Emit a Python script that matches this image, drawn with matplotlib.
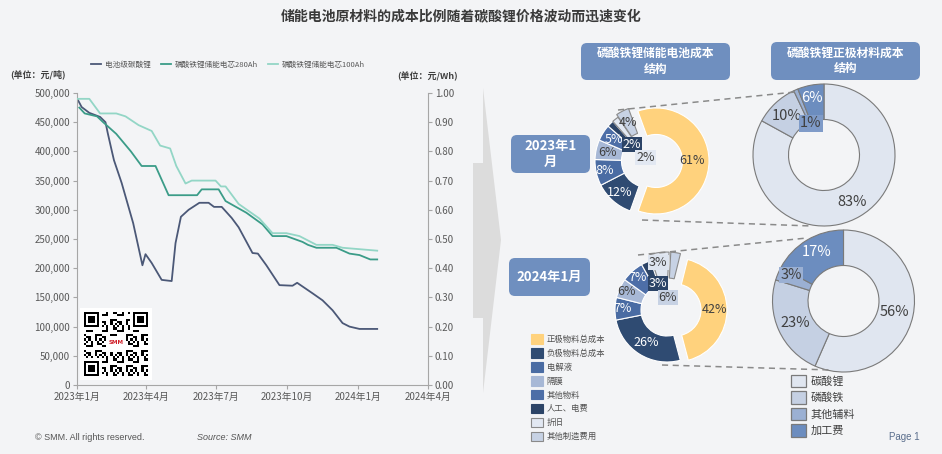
import matplotlib.pyplot as plt
from matplotlib.patches import FancyBboxPatch, Polygon, Patch, Rectangle
from matplotlib.ticker import FuncFormatter, MultipleLocator
import numpy as np
import pandas as pd

plt.rcParams['font.family'] = ['Noto Sans CJK SC', 'DejaVu Sans']

# ---------------- line chart data ----------------
li_dates = ['2023-01-01', '2023-01-07', '2023-01-17', '2023-01-31', '2023-02-07', '2023-02-10',
            '2023-02-15', '2023-02-18', '2023-02-28', '2023-03-15', '2023-03-27', '2023-03-31',
            '2023-04-08', '2023-04-21', '2023-05-04', '2023-05-09', '2023-05-16', '2023-05-26',
            '2023-06-09', '2023-06-21', '2023-06-28', '2023-07-08', '2023-07-21', '2023-07-30',
            '2023-08-17', '2023-08-24', '2023-09-04', '2023-09-21', '2023-10-08', '2023-10-14',
            '2023-11-03', '2023-11-16', '2023-11-29', '2023-12-12', '2023-12-21', '2024-01-03',
            '2024-01-26']
li_price = [491000, 476000, 466000, 459000, 450000, 431000, 402000, 385000, 346000, 277000,
            205000, 224000, 209000, 180000, 178000, 243000, 288000, 300000, 312000, 312000,
            305000, 305000, 286000, 270000, 226000, 225000, 205000, 171000, 170000, 175000,
            157000, 145000, 128000, 106000, 100000, 96000, 96000]

cell280_dates = ['2023-01-04', '2023-01-11', '2023-01-27', '2023-02-04', '2023-02-21', '2023-03-12',
                 '2023-03-26', '2023-04-13', '2023-04-30', '2023-06-06', '2023-06-12', '2023-07-04',
                 '2023-07-13', '2023-08-09', '2023-08-30', '2023-09-12', '2023-09-30', '2023-10-21',
                 '2023-10-28', '2023-11-08', '2023-12-04', '2023-12-21', '2024-01-03', '2024-01-17',
                 '2024-01-26']
cell280_price = [0.95, 0.93, 0.92, 0.90, 0.86, 0.80, 0.75, 0.75, 0.65, 0.65, 0.67, 0.67, 0.63,
                 0.59, 0.55, 0.51, 0.51, 0.49, 0.48, 0.47, 0.47, 0.45, 0.445, 0.43, 0.43]

cell100_dates = ['2023-01-01', '2023-01-17', '2023-01-31', '2023-02-21', '2023-03-05', '2023-03-22',
                 '2023-04-08', '2023-04-19', '2023-05-02', '2023-05-10', '2023-05-22', '2023-05-30',
                 '2023-06-30', '2023-07-07', '2023-07-13', '2023-07-30', '2023-08-26', '2023-09-12',
                 '2023-09-30', '2023-10-17', '2023-11-08', '2023-11-29', '2023-12-12', '2024-01-26']
cell100_price = [0.98, 0.98, 0.93, 0.93, 0.92, 0.89, 0.87, 0.82, 0.81, 0.75, 0.69, 0.70, 0.70,
                 0.68, 0.68, 0.62, 0.57, 0.52, 0.52, 0.51, 0.48, 0.48, 0.47, 0.46]

x_ticks = ['2023-01-01', '2023-04-01', '2023-07-01', '2023-10-01', '2024-01-01', '2024-04-01']
x_tick_labels = ['2023年1月', '2023年4月', '2023年7月', '2023年10月', '2024年1月', '2024年4月']

# ---------------- donut data ----------------
battery_items = ['正极物料总成本', '负极物料总成本', '电解液', '隔膜', '其他物料', '人工、电费', '折旧', '其他制造费用']
battery_2023 = [61, 12, 8, 6, 5, 2, 2, 4]
battery_2024 = [42, 26, 7, 6, 7, 3, 6, 3]
cathode_items = ['碳酸锂', '磷酸铁', '其他辅料', '加工费']
cathode_2023 = [83, 10, 1, 6]
cathode_2024 = [56, 23, 3, 17]

BG = '#f3f4f6'
DARK = '#404040'
BOX = '#6f8fbf'
battery_colors = ['#ffd27d', '#2f4b72', '#4a6ca3', '#a7b8d6', '#4d6ea7', '#2c4467', '#e2e8f2', '#c7d2e4']
battery_edges = ['none', 'none', 'none', 'none', 'none', 'none', '#8a8a8a', '#8a8a8a']
cathode_colors = ['#e0e6f0', '#c5d0e3', '#9bb0d3', '#6c8dbf']

W, HGT = 942, 454


def H(y):
    return HGT - y


fig = plt.figure(figsize=(9.42, 4.54), dpi=100, facecolor=BG)

# ---------------- line chart ----------------
ax = fig.add_axes([77 / W, 1 - 385 / HGT, 351 / W, 292 / HGT])
ax.set_facecolor('none')
l1, = ax.plot(pd.to_datetime(li_dates), li_price, color='#4b5877', lw=1.3, label='电池级碳酸锂')
ax2 = ax.twinx()
l2, = ax2.plot(pd.to_datetime(cell280_dates), cell280_price, color='#3b9c88', lw=1.3,
               label='磷酸铁锂储能电芯280Ah')
l3, = ax2.plot(pd.to_datetime(cell100_dates), cell100_price, color='#93d6c6', lw=1.3,
               label='磷酸铁锂储能电芯100Ah')

ax.set_ylim(0, 500000)
ax2.set_ylim(0, 1)
ax.set_xlim(pd.Timestamp('2023-01-01'), pd.Timestamp('2024-04-01'))
ax.set_xticks(pd.to_datetime(x_ticks))
ax.set_xticklabels(x_tick_labels)
ax.yaxis.set_major_locator(MultipleLocator(50000))
ax.yaxis.set_major_formatter(FuncFormatter(lambda v, p: f'{int(v):,}'))
ax2.yaxis.set_major_locator(MultipleLocator(0.1))
ax2.yaxis.set_major_formatter(FuncFormatter(lambda v, p: f'{v:.2f}'))

for a in (ax, ax2):
    a.spines['top'].set_visible(False)
    for s in a.spines.values():
        s.set_color('#a6a6a6')
    a.tick_params(labelsize=7, labelcolor='#595959', color='#a6a6a6', length=3, pad=2)
ax.spines['right'].set_visible(False)
ax2.spines['left'].set_visible(False)
ax2.spines['bottom'].set_visible(False)

leg = ax2.legend(handles=[l1, l2, l3], loc='center', bbox_to_anchor=(0.43, 1.096), ncol=3,
                 frameon=False, fontsize=5.5, handlelength=1.3, columnspacing=1.3, handletextpad=0.5)
for t in leg.get_texts():
    t.set_color('#595959')

fig.text(10 / W, 1 - 74 / HGT, '(单位：元/吨)', fontsize=6.5, fontweight='bold', color=DARK, va='center')
fig.text(397 / W, 1 - 76 / HGT, '(单位：元/Wh)', fontsize=6.5, fontweight='bold', color=DARK, va='center')

# ---------------- overlay in pixel coords ----------------
ov = fig.add_axes([0, 0, 1, 1], zorder=5)
ov.patch.set_alpha(0)

fig.text(461 / W, 1 - 17 / HGT, '储能电池原材料的成本比例随着碳酸锂价格波动而迅速变化',
         fontsize=10, fontweight='bold', color='#3a3a3a', ha='center', va='center')

# QR code block
ov.add_patch(Rectangle((80, H(380)), 72, 72, fc='white', ec='none', zorder=6))
n = 29
ii, jj = np.indices((n, n))
qr = (((ii * 3 + jj * 5 + ii * jj) % 7) < 3).astype(float)
for r0, c0 in [(0, 0), (0, n - 7), (n - 7, 0)]:
    qr[max(r0 - 1, 0):r0 + 8, max(c0 - 1, 0):c0 + 8] = 0
    qr[r0:r0 + 7, c0:c0 + 7] = 1
    qr[r0 + 1:r0 + 6, c0 + 1:c0 + 6] = 0
    qr[r0 + 2:r0 + 5, c0 + 2:c0 + 5] = 1
qr[11:18, 10:19] = 0
ov.imshow(qr, cmap='gray_r', extent=(84, 148, H(376), H(312)), interpolation='nearest',
          zorder=7, aspect='auto')
ov.text(116, H(342), 'SMM', color='#d0202a', fontsize=4, fontweight='bold', ha='center',
        va='center', zorder=8, family='DejaVu Sans')

# big grey arrow
arrow_pts = [(483, 88), (501, 240), (483, 393), (483, 318), (473, 318), (473, 163), (483, 163)]
ov.add_patch(Polygon([(x, H(y)) for x, y in arrow_pts], closed=True, fc='#dcdcdc', ec='none'))

# header boxes
def label_box(x0, y0, x1, y1, text, fs):
    ov.add_patch(FancyBboxPatch((x0, H(y1)), x1 - x0, y1 - y0,
                                boxstyle='round,pad=0,rounding_size=6', fc=BOX, ec='none'))
    ov.text((x0 + x1) / 2, H((y0 + y1) / 2), text, color='white', fontsize=fs, fontweight='bold',
            ha='center', va='center', linespacing=1.25)


label_box(581, 43, 730, 80, '磷酸铁锂储能电池成本\n结构', 8.5)
label_box(771, 42, 920, 80, '磷酸铁锂正极材料成本\n结构', 8.5)
label_box(511, 135, 590, 173, '2023年1\n月', 9.5)
label_box(509, 258, 590, 296, '2024年1月', 9.5)

# dashed connectors
for (xa, ya), (xb, yb) in [((618, 110), (795, 92)), ((642, 220), (812, 226)),
                           ((638, 255), (807, 238)), ((662, 365), (832, 370))]:
    ov.plot([xa, xb], [H(ya), H(yb)], ls=(0, (4, 3)), color='#8a8a8a', lw=1.1)


def donut(values, colors, edges, cx, cy, r, start, explode, lab_r, lab_shift, lab_col, lab_box, fs):
    wedges, _ = ov.pie(values, colors=colors, radius=r, center=(cx, H(cy)), startangle=start,
                       counterclock=False, explode=explode, frame=True,
                       wedgeprops=dict(width=r * 0.5, linewidth=0.8))
    for w, e in zip(wedges, edges):
        w.set_edgecolor(e)
    total = float(sum(values))
    ang = start
    for i, v in enumerate(values):
        mid = ang - 180 * v / total + lab_shift[i]
        ang -= 360 * v / total
        rr = lab_r[i] * r
        x = cx + rr * np.cos(np.radians(mid))
        y = H(cy) + rr * np.sin(np.radians(mid))
        bbox = dict(boxstyle='square,pad=0.08', fc=lab_box[i], ec='none') if lab_box[i] else None
        ov.text(x, y, f'{v}%', color=lab_col[i], fontsize=fs, ha='center', va='center', bbox=bbox,
                zorder=6)
    return wedges


W_ = 'white'
donut(battery_2023, battery_colors, ['white'] * 6 + ['#8a8a8a', '#8a8a8a'], 648, 161, 53, 110,
      [8, 0, 0, 0, 0, 0, 0, 3],
      [0.83, 0.80, 0.83, 0.79, 0.77, 0.43, 0.08, 0.81], [0, 0, 0, 0, 0, 0, 0, 0],
      [DARK, W_, W_, DARK, W_, W_, DARK, DARK],
      [None, None, None, None, None, '#2c4467', '#e2e8f2', None], 9)

donut(battery_2024, battery_colors, ['white'] * 6 + ['#8a8a8a', '#8a8a8a'], 667, 310, 52, 76,
      [8, 0, 0, 0, 0, 0, 6, 6],
      [0.92, 0.74, 0.85, 0.86, 0.85, 0.53, 0.25, 0.92], [0, 0, 0, 0, 0, -5, -12, 19],
      [DARK, W_, W_, DARK, W_, W_, DARK, DARK],
      [None, None, None, None, None, '#2c4467', '#c7d2e4', '#dde4ef'], 9)

donut(cathode_2023, cathode_colors, ['#7a7a7a'] * 4, 824, 155, 71, 90, [0, 0, 0, 0],
      [0.77, 0.76, 0.48, 0.82], [0, 0, -1, 1], [DARK, DARK, DARK, W_],
      [None, None, '#7f9bc8', None], 10.5)

donut(cathode_2024, cathode_colors, ['#7a7a7a'] * 4, 843.5, 301, 71, 90, [0, 0, 0, 0],
      [0.74, 0.75, 0.82, 0.79], [0, 0, -3.5, -2], [DARK, DARK, DARK, W_],
      [None, None, '#9bb0d3', None], 10.5)

ov.set_xlim(0, W)
ov.set_ylim(0, HGT)
ov.set_aspect('auto')
ov.axis('off')

# legends for donuts
h_bat = [Patch(fc=c, ec=e if e != 'none' else c, lw=0.8) for c, e in zip(battery_colors, battery_edges)]
lg1 = fig.legend(handles=h_bat, labels=battery_items, loc='upper left',
                 bbox_to_anchor=(531 / W, 1 - 334 / HGT), frameon=False, fontsize=6,
                 handlelength=1.4, handleheight=1.4, labelspacing=0.52, handletextpad=0.5,
                 borderpad=0, borderaxespad=0)
for t in lg1.get_texts():
    t.set_color('#505050')

h_cat = [Patch(fc=c, ec='#7a7a7a', lw=0.9) for c in cathode_colors]
lg2 = fig.legend(handles=h_cat, labels=cathode_items, loc='upper left',
                 bbox_to_anchor=(791 / W, 1 - 375 / HGT), frameon=False, fontsize=8,
                 handlelength=1.35, handleheight=1.35, labelspacing=0.35, handletextpad=0.4,
                 borderpad=0, borderaxespad=0)
for t in lg2.get_texts():
    t.set_color(DARK)

# footer
fig.text(35 / W, 1 - 437 / HGT, '© SMM. All rights reserved.', fontsize=6.5, color='#555555',
         va='center', family='Liberation Sans')
fig.text(197 / W, 1 - 437 / HGT, 'Source: SMM', fontsize=6.5, color='#555555', va='center',
         style='italic', family='Liberation Sans')
fig.text(889 / W, 1 - 437 / HGT, 'Page 1', fontsize=7, color='#5a6e8c', va='center',
         family='Liberation Sans')

fig.savefig('out.png', dpi=100, facecolor=BG)
